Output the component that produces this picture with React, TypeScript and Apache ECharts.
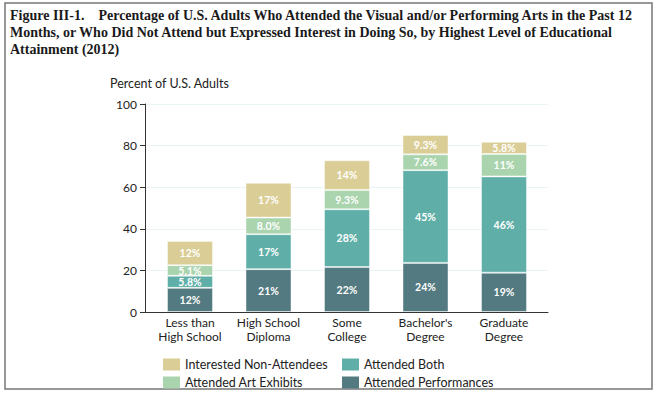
import React, { useEffect, useRef } from "react";
import * as echarts from "echarts";

const categories = ["Less than\nHigh School", "High School\nDiploma", "Some\nCollege", "Bachelor's\nDegree", "Graduate\nDegree"];
const attendedPerformances = [11.6, 20.6, 21.6, 23.6, 18.9];
const attendedBoth = [5.8, 16.8, 27.8, 44.6, 46.3];
const attendedArtExhibits = [5.1, 8.0, 9.3, 7.6, 10.8];
const interestedNonAttendees = [11.6, 16.7, 14.2, 9.3, 5.8];
const yTicks = [0, 20, 40, 60, 80, 100];

const seriesNames = ["Attended Performances", "Attended Both", "Attended Art Exhibits", "Interested Non-Attendees"];
const seriesColors = ["#527a80", "#5fafa8", "#a9d4ad", "#dacd95"];
const titleText =
  "Figure III-1.    Percentage of U.S. Adults Who Attended the Visual and/or Performing Arts in the Past 12\nMonths, or Who Did Not Attend but Expressed Interest in Doing So, by Highest Level of Educational\nAttainment (2012)";

const FONT = "Lato";

export default function App() {
  const ref = useRef<HTMLDivElement>(null);
  useEffect(() => {
    if (!ref.current) return;
    const chart = echarts.init(ref.current, undefined, { renderer: "svg" });
    const fmt = (p: any) => {
      const v = p.value as number;
      return (v >= 10 ? Math.round(v).toString() : v.toFixed(1)) + "%";
    };
    const dataSets = [attendedPerformances, attendedBoth, attendedArtExhibits, interestedNonAttendees];
    chart.setOption({
      animation: false,
      backgroundColor: "#ffffff",
      grid: [
        { left: 145, top: 104, width: 403, height: 208 },
        { left: 150.75, top: 104, width: 392.5, height: 208 },
      ],
      xAxis: [
        {
          type: "category",
          gridIndex: 0,
          data: categories,
          axisLine: { lineStyle: { color: "#333", width: 1 } },
          axisTick: { show: false },
          axisLabel: { show: false },
        },
        {
          type: "category",
          gridIndex: 1,
          data: categories,
          axisLine: { show: false },
          axisTick: { show: false },
          axisLabel: { interval: 0, color: "#222", fontFamily: FONT, fontSize: 12, lineHeight: 14.5, margin: 3 },
        },
      ],
      yAxis: [
        {
          type: "value",
          gridIndex: 0,
          min: yTicks[0],
          max: yTicks[yTicks.length - 1],
          interval: 20,
          axisLine: { show: true, lineStyle: { color: "#333", width: 1 } },
          axisTick: { show: true, length: 5, lineStyle: { color: "#333" } },
          axisLabel: { color: "#222", fontFamily: FONT, fontSize: 12, margin: 8 },
          splitLine: { show: true, lineStyle: { color: "#eaf4f4", width: 1 } },
        },
        {
          type: "value",
          gridIndex: 1,
          min: 0,
          max: 100,
          show: false,
          splitLine: { show: false },
        },
      ],
      legend: [
        {
          data: ["Interested Non-Attendees", "Attended Art Exhibits"],
          orient: "vertical",
          left: 163,
          top: 358,
          itemWidth: 17,
          itemHeight: 12,
          itemGap: 5,
          icon: "rect",
          padding: 0,
          itemStyle: { borderWidth: 0 },
          textStyle: { color: "#222", fontFamily: FONT, fontSize: 12.5 },
        },
        {
          data: ["Attended Both", "Attended Performances"],
          orient: "vertical",
          left: 342,
          top: 358,
          itemWidth: 17,
          itemHeight: 12,
          itemGap: 5,
          icon: "rect",
          padding: 0,
          itemStyle: { borderWidth: 0 },
          textStyle: { color: "#222", fontFamily: FONT, fontSize: 12.5 },
        },
      ],
      series: dataSets.map((d, i) => ({
        name: seriesNames[i],
        type: "bar",
        stack: "total",
        xAxisIndex: 1,
        yAxisIndex: 1,
        barWidth: 46,
        data: d,
        itemStyle: { color: seriesColors[i], borderColor: "rgba(255,255,255,0.45)", borderWidth: 1 },
        label: {
          show: true,
          position: "inside",
          color: "#ffffff",
          fontFamily: FONT,
          fontWeight: "bold",
          fontSize: 10.5,
          lineHeight: 10,
          formatter: fmt,
        },
      })),
      graphic: [
        {
          type: "rect",
          shape: { x: 5, y: 3, width: 647, height: 386 },
          style: { fill: "none", stroke: "#777", lineWidth: 1.5 },
          silent: true,
        },
        {
          type: "text",
          x: 10,
          y: 7,
          style: {
            text: titleText,
            fill: "#1a1a1a",
            fontFamily: "Liberation Serif",
            fontWeight: "bold",
            fontSize: 14,
            lineHeight: 17,
          },
        },
        {
          type: "text",
          x: 110,
          y: 77,
          style: {
            text: "Percent of U.S. Adults",
            fill: "#222",
            fontFamily: FONT,
            fontSize: 12.5,
          },
        },
      ],
    });
    return () => chart.dispose();
  }, []);
  return <div ref={ref} style={{ position: "absolute", left: 0, top: 0, width: 657, height: 397 }} />;
}
